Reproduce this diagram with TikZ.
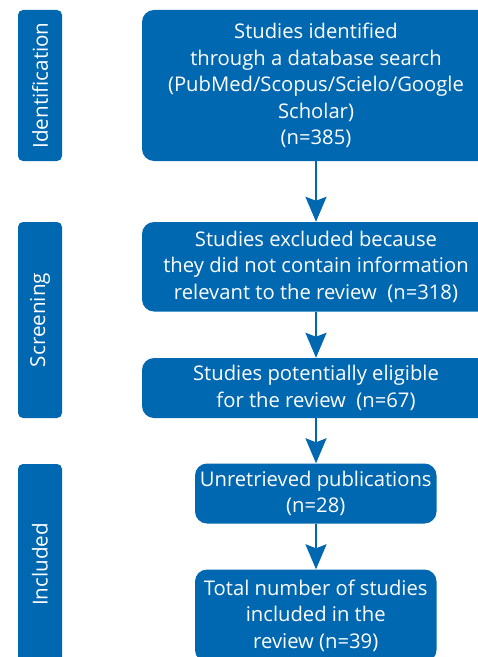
\documentclass[tikz,border=0pt]{standalone}
\usepackage{fontspec}
\setmainfont{Open Sans}
\usetikzlibrary{arrows.meta}
\definecolor{boxblue}{RGB}{0,103,177}
\begin{document}
\begin{tikzpicture}[x=1bp,y=-1bp,
  box/.style={fill=boxblue, text=white, rounded corners=12bp, align=center, inner sep=0pt,
    font=\fontsize{20.3}{26.5}\selectfont},
  phase/.style={fill=boxblue, text=white, rounded corners=5bp, rotate=90, inner sep=0pt,
    minimum height=44bp, font=\fontsize{20.7}{23}\selectfont},
  arr/.style={draw=boxblue, line width=2.3bp, -{Stealth[length=25bp,width=21bp,inset=4bp]}}]
\useasboundingbox (0,0) rectangle (478,657);
\clip (0,0) rectangle (478,657);
% phase labels
\node[phase, minimum width=151bp] (p1) at (40,85.5) {Identification};
\node[phase, minimum width=196bp] (p2) at (40,320) {Screening};
\node[phase, minimum width=201bp] (p3) at (40,564.5) {Included};
% boxes
\node[box, minimum width=348bp, minimum height=151bp] (b1) at (316,85.5)
  {Studies identified\\through a database search\\(PubMed/Scopus/Scielo/Google\\Scholar)\\(n=385)};
\node[box, minimum width=348bp, minimum height=89.5bp] (b2) at (316,266.75)
  {Studies excluded because\\they did not contain information\\relevant to the review~~(n=318)};
\node[box, minimum width=348bp, minimum height=60bp] (b3) at (316,388)
  {Studies potentially eligible\\for the review~~(n=67)};
\node[box, minimum width=241.5bp, minimum height=60bp] (b4) at (315.75,493.5)
  {Unretrieved publications\\(n=28)};
\node[box, minimum width=241.5bp, minimum height=92.5bp] (b5) at (315.75,615.75)
  {Total number of studies\\included in the\\review (n=39)};
% arrows
\draw[arr] (b1.south -| 316,0) -- (b2.north -| 316,0);
\draw[arr] (b2.south -| 316,0) -- (b3.north -| 316,0);
\draw[arr] (b3.south -| 316,0) -- (b4.north -| 316,0);
\draw[arr] (b4.south -| 316,0) -- (b5.north -| 316,0);
\end{tikzpicture}
\end{document}
